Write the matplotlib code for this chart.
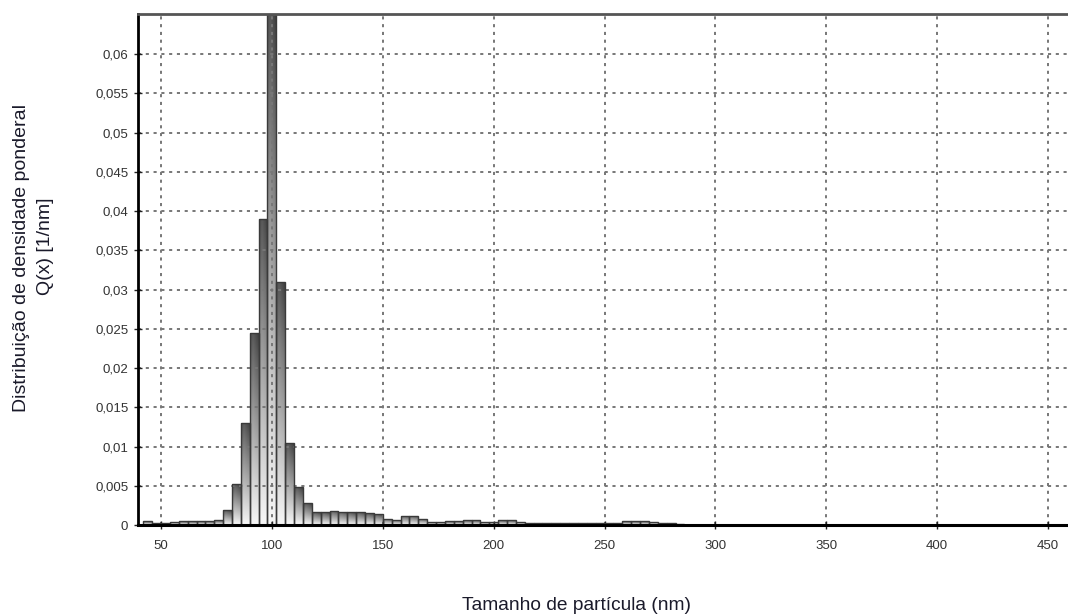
import numpy as np
import matplotlib
matplotlib.use('Agg')
import matplotlib.pyplot as plt
from matplotlib.ticker import FuncFormatter

plt.rcParams['font.family'] = ['Liberation Sans', 'DejaVu Sans']

# particle size classes (bin centres, nm) and weight density Q(x) [1/nm]
bin_width = 4.0
sizes = [44, 48, 52, 56, 60, 64, 68, 72, 76, 80, 84, 88, 92, 96, 100,
         104, 108, 112, 116, 120, 124, 128, 132, 136, 140, 144, 148, 152,
         156, 160, 164, 168, 172, 176, 180, 184, 188, 192, 196, 200, 204,
         208, 212, 216, 220, 224, 228, 232, 236, 240, 244, 248, 252, 256,
         260, 264, 268, 272, 276, 280, 284, 288]
density = [0.0005, 0.0003, 0.0003, 0.0004, 0.0005, 0.0005, 0.0005, 0.0005,
           0.0006, 0.0019, 0.0052, 0.0130, 0.0244, 0.0390, 0.0700,
           0.0309, 0.0104, 0.0048, 0.0028, 0.0016, 0.0016, 0.0018, 0.0017,
           0.0016, 0.0016, 0.0015, 0.0014, 0.0008, 0.0007, 0.0012, 0.0012,
           0.0008, 0.0004, 0.0004, 0.0005, 0.0005, 0.0006, 0.0006, 0.0004,
           0.0004, 0.0006, 0.0006, 0.0004, 0.0003, 0.0003, 0.0003, 0.0003,
           0.0003, 0.0003, 0.0003, 0.0003, 0.0003, 0.0003, 0.0003,
           0.0005, 0.0005, 0.0005, 0.0004, 0.0003, 0.0002, 0.0001, 0.00005]
xticks = [50, 100, 150, 200, 250, 300, 350, 400, 450]
yticks = [0, 0.005, 0.01, 0.015, 0.02, 0.025, 0.03, 0.035, 0.04, 0.045,
          0.05, 0.055, 0.06]

xlim = (39.6, 459.0)
ylim = (0, 0.0651)

fig = plt.figure(figsize=(10.68, 6.16), dpi=100)
ax = fig.add_axes([138/1068, 1 - 525/616, 1 - 138/1068, (525 - 14)/616])

# shaded bars: dark at the top, fading to white at the base
grad = np.linspace(1.0, 0.0, 64).reshape(-1, 1)
shade = np.tile(grad, (1, 16))
cols = np.linspace(0, 1, 16)
shade = shade * (0.85 + 0.15 * np.abs(cols - 0.35) / 0.65)
bars = ax.bar(sizes, density, width=bin_width, facecolor='none',
              edgecolor='#3a3a3a', linewidth=1.0, zorder=3)
for rect in bars:
    x0 = rect.get_x()
    h = min(rect.get_height(), ylim[1])
    im = ax.imshow(shade, cmap='gray_r', vmin=-0.05, vmax=1.35,
                   extent=(x0, x0 + rect.get_width(), 0, h),
                   aspect='auto', origin='upper', zorder=2,
                   interpolation='bilinear')
    im.set_clip_path(rect)
ax.set_xlim(*xlim)
ax.set_ylim(*ylim)

ax.set_xticks(xticks)
ax.set_yticks(yticks)
ax.yaxis.set_major_formatter(
    FuncFormatter(lambda v, p: '0' if v == 0 else ('%g' % v).replace('.', ',')))
ax.grid(True, color='#777777', linestyle=(0, (1.6, 2.4)), linewidth=1.4)
ax.set_axisbelow(False)
for gl in ax.get_xgridlines() + ax.get_ygridlines():
    gl.set_zorder(4)

ax.tick_params(axis='both', labelsize=9.5, direction='inout', length=6,
               width=1.0, color='#222222', labelcolor='#333333')
ax.tick_params(axis='x', pad=8)
ax.tick_params(axis='y', pad=4)
ax.spines['right'].set_visible(False)
ax.spines['left'].set_linewidth(2.0)
ax.spines['top'].set_linewidth(2.0)
ax.spines['top'].set_color('#555555')
ax.spines['bottom'].set_linewidth(2.2)
for s in ax.spines.values():
    s.set_zorder(5)

fig.text(22/1068, 1 - 258/616, 'Distribuição de densidade ponderal',
         rotation=90, ha='center', va='center', fontsize=14, color='#1a1a2a')
fig.text(46/1068, 1 - 246/616, 'Q(x) [1/nm]', rotation=90,
         ha='center', va='center', fontsize=14, color='#1a1a2a')
fig.text(576/1068, 1 - 606/616, 'Tamanho de partícula (nm)',
         ha='center', va='center', fontsize=13.8, color='#1a1a2a')

fig.savefig('out.png', dpi=100)
